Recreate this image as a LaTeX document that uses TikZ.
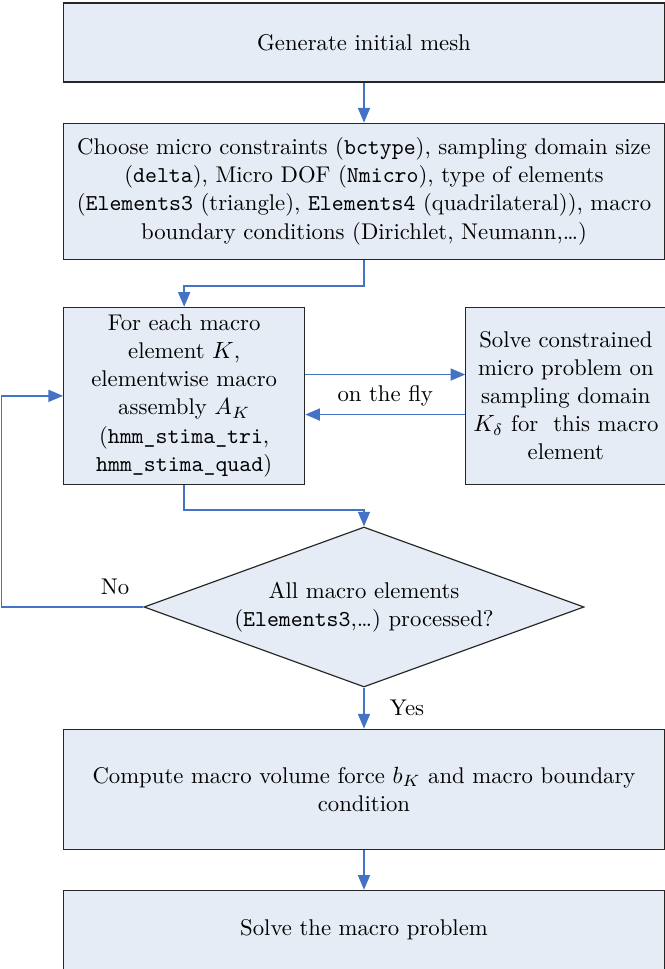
\documentclass[tikz,border=0pt]{standalone}
\usepackage{amsmath}
\usepackage{tikz}
\usetikzlibrary{arrows.meta}
\usetikzlibrary{positioning,shapes,calc}
\definecolor{mfill}{RGB}{230,236,246}
\definecolor{mblue}{RGB}{68,114,196}

\begin{document}
\begin{tikzpicture}[x=0.015cm,y=-0.015cm,
		every node/.style={font=\fontsize{9.7}{12}\selectfont},
		box/.style={rectangle,draw=black!85,fill=mfill,line width=0.5pt,align=center,inner sep=1pt},
		decision/.style={diamond,draw=black!85,fill=mfill,line width=0.5pt,align=center,
			aspect=2.75,inner sep=0pt,minimum width=6.6cm,minimum height=2.4cm},
		flow/.style={draw=mblue,line width=0.7pt,-{Triangle[length=2.2mm,width=1.8mm]}}
	]
	\useasboundingbox (0,0) rectangle (665,969);

	% the steps down the left
	\node[box,minimum width=9.01cm,minimum height=1.185cm] (mesh) at (364,42.5)
		{Generate initial mesh};
	\node[box,minimum width=9.01cm,minimum height=2.04cm,below=0.6cm of mesh] (choose)
		{Choose micro constraints (\texttt{bctype}), sampling domain size\\
		(\texttt{delta}), Micro DOF (\texttt{Nmicro}), type of elements\\
		(\texttt{Elements3} (triangle), \texttt{Elements4} (quadrilateral)), macro\\
		boundary conditions (Dirichlet, Neumann,\ldots)};
	\node[box,minimum width=3.615cm,minimum height=2.655cm,
		below right=0.705cm and 0cm of choose.south west] (assemble)
		{For each macro\\ element $K$,\\ elementwise macro\\ assembly $A_K$\\
		(\texttt{hmm\_stima\_tri},\\ \texttt{hmm\_stima\_quad})};
	\node[box,minimum width=3cm,minimum height=2.655cm,right=2.4cm of assemble] (micro)
		{Solve constrained\\ micro problem on\\ sampling domain\\
		$K_\delta$ for\ \ this macro\\ element};

	% the test
	\node[decision] (check) at (364,607)
		{All macro elements\\ (\texttt{Elements3},\ldots) processed?};

	\node[box,minimum width=9.01cm,minimum height=1.8cm,below=0.615cm of check] (compute)
		{Compute macro volume force $b_K$ and macro boundary\\ condition};
	\node[box,minimum width=9.01cm,minimum height=1.185cm,below=0.6cm of compute] (solve)
		{Solve the macro problem};

	% the edges
	\draw[flow] (mesh) -- (choose);
	\draw[flow] (choose.south) -- ++(0,26) -| (assemble.north);
	\draw[flow] ([yshift=0.32cm]assemble.east) -- ([yshift=0.32cm]micro.west);
	\draw[flow] ([yshift=-0.28cm]micro.west) -- node[midway,above=0cm] {on the fly}
		([yshift=-0.28cm]assemble.west -| assemble.east);
	\draw[flow] (assemble.south) -- ++(0,25) -| (check.north);
	\draw[flow] (check.west) -- node[pos=0.2,above=0.06cm] {No} ++(-142,0) |- (assemble.west);
	\draw[flow] (check.south) -- node[midway,right=0.26cm] {Yes} (compute.north);
	\draw[flow] (compute) -- (solve);
\end{tikzpicture}
\end{document}
